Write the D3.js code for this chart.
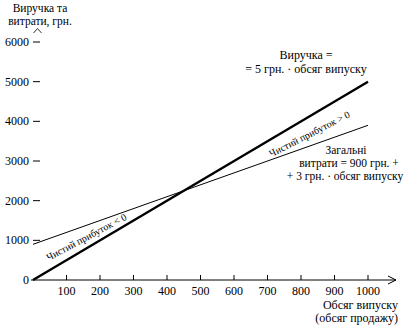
<!DOCTYPE html>
<html>
<head>
<meta charset="utf-8">
<script src="https://cdn.jsdelivr.net/npm/d3@7/dist/d3.min.js"></script>
</head>
<body style="margin:0">
<svg id="chart" width="414" height="325"></svg>
<script>
// Break-even chart: revenue and total costs versus output volume
const output = [0, 1000];            // обсяг випуску
const revenue = [0, 5000];           // виручка, грн.
const totalCost = [900, 3900];       // загальні витрати, грн.
const xTicks = [100, 200, 300, 400, 500, 600, 700, 800, 900, 1000];
const yTicks = [0, 1000, 2000, 3000, 4000, 5000, 6000];

const FONT = '"Liberation Serif", "Times New Roman", "DejaVu Serif", serif';
const svg = d3.select("#chart");
const x = d3.scaleLinear().domain([0, 1000]).range([33, 368]);
const y = d3.scaleLinear().domain([0, 6000]).range([280, 42]);

function label(px, py, str, size, anchor) {
  return svg.append("text").attr("x", px).attr("y", py)
    .attr("text-anchor", anchor || "middle").attr("font-size", size)
    .style("font-family", FONT)
    .text(str);
}

// x axis with arrow
svg.append("line").attr("x1", 31).attr("x2", 396).attr("y1", y(0)).attr("y2", y(0))
  .attr("stroke", "#000").attr("stroke-width", 1);
svg.append("path").attr("d", `M388,${y(0) - 4} L396,${y(0)} L388,${y(0) + 4}`)
  .attr("fill", "none").attr("stroke", "#000").attr("stroke-width", 1);

svg.append("g").selectAll("line").data(xTicks).join("line")
  .attr("x1", d => x(d)).attr("x2", d => x(d))
  .attr("y1", y(0) - 5).attr("y2", y(0))
  .attr("stroke", "#000");
xTicks.forEach(d => label(x(d), 295, d, 12));

// y axis: labels with dash ticks and a caret at the top
yTicks.forEach(d => label(29, y(d) + 4, d, 12, "end"));
svg.append("g").selectAll("line").data(yTicks.filter(d => d > 0)).join("line")
  .attr("x1", 33).attr("x2", 40)
  .attr("y1", d => y(d)).attr("y2", d => y(d))
  .attr("stroke", "#000");
svg.append("path").attr("d", "M33.5,33 L37.5,28.5 L41.5,33")
  .attr("fill", "none").attr("stroke", "#000").attr("stroke-width", 0.8);

// axis titles
label(40, 12, "Виручка та", 11.5);
label(40, 25, "витрати, грн.", 11.5);
label(398, 309, "Обсяг випуску", 12, "end");
label(398, 322, "(обсяг продажу)", 12, "end");

// lines
const line = d3.line().x(d => x(d[0])).y(d => y(d[1]));
svg.append("path").datum(output.map((v, i) => [v, totalCost[i]]))
  .attr("d", line).attr("fill", "none").attr("stroke", "#000").attr("stroke-width", 1);
svg.append("path").datum(output.map((v, i) => [v, revenue[i]]))
  .attr("d", line).attr("fill", "none").attr("stroke", "#000").attr("stroke-width", 2.4);

// line labels
label(306, 59, "Виручка =", 12);
label(306, 73, "= 5 грн. · обсяг випуску", 12);
label(346, 154, "Загальні", 11.5);
label(349, 167, "витрати = 900 грн. +", 11.5);
label(345, 180, "+ 3 грн. · обсяг випуску", 11.5);

label(0, 0, "Чистий прибуток > 0", 10)
  .attr("transform", "translate(311,137) rotate(-27)");
label(0, 0, "Чистий прибуток < 0", 10)
  .attr("transform", "translate(88,240) rotate(-28)");
</script>
</body>
</html>
